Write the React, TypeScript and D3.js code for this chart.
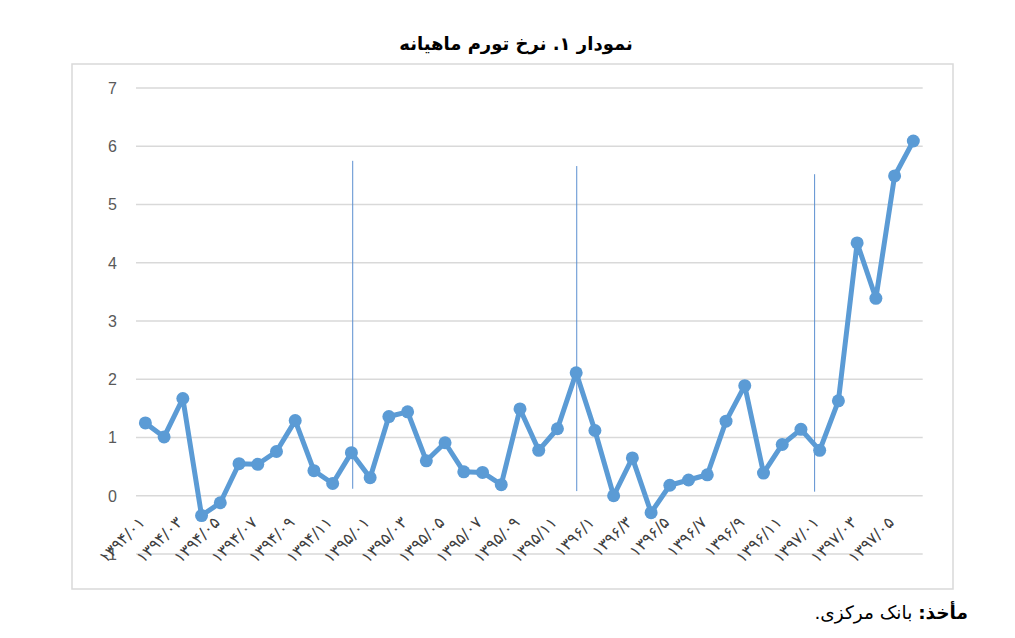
import React from "react";
import * as d3 from "d3";

const months: string[] = [
  "1394/01","1394/02","1394/03","1394/04","1394/05","1394/06","1394/07","1394/08","1394/09","1394/10","1394/11","1394/12",
  "1395/01","1395/02","1395/03","1395/04","1395/05","1395/06","1395/07","1395/08","1395/09","1395/10","1395/11","1395/12",
  "1396/01","1396/02","1396/03","1396/04","1396/05","1396/06","1396/07","1396/08","1396/09","1396/10","1396/11","1396/12",
  "1397/01","1397/02","1397/03","1397/04","1397/05","1397/06",
];

const inflation: number[] = [
  1.25, 1.01, 1.67, -0.34, -0.12, 0.55, 0.54, 0.76, 1.29, 0.43, 0.21, 0.74,
  0.31, 1.36, 1.44, 0.6, 0.91, 0.41, 0.4, 0.19, 1.49, 0.78, 1.15, 2.11,
  1.12, 0.0, 0.65, -0.29, 0.18, 0.27, 0.36, 1.28, 1.89, 0.39, 0.88, 1.14,
  0.78, 1.63, 4.34, 3.39, 5.49, 6.09,
];

// label shown for every second month
const tickLabels: string[] = [
  "۱۳۹۴/۰۱", "۱۳۹۴/۰۳", "۱۳۹۴/۰۵", "۱۳۹۴/۰۷", "۱۳۹۴/۰۹", "۱۳۹۴/۱۱",
  "۱۳۹۵/۰۱", "۱۳۹۵/۰۳", "۱۳۹۵/۰۵", "۱۳۹۵/۰۷", "۱۳۹۵/۰۹", "۱۳۹۵/۱۱",
  "۱۳۹۶/۱", "۱۳۹۶/۳", "۱۳۹۶/۵", "۱۳۹۶/۷", "۱۳۹۶/۹", "۱۳۹۶/۱۱",
  "۱۳۹۷/۰۱", "۱۳۹۷/۰۳", "۱۳۹۷/۰۵",
];

const yTicks: number[] = [-1, 0, 1, 2, 3, 4, 5, 6, 7];

// hand-drawn year separators: position in month index units, top/bottom in value units
const dividerPos: number[] = [11.07, 23.03, 35.73];
const dividerTop: number[] = [5.75, 5.66, 5.52];
const dividerBottom: number[] = [0.12, 0.08, 0.07];

const title = "نمودار ۱. نرخ تورم ماهیانه";
const sourceLabel = "مأخذ:";
const sourceText = " بانک مرکزی.";

export default function App() {
  const W = 1015, H = 638;
  const plotLeft = 136, plotRight = 922.7;
  const x = d3.scalePoint<number>()
    .domain(months.map((_, i) => i))
    .range([plotLeft, plotRight])
    .padding(0.5);
  const step = x.step();
  const xAt = (p: number) => (x(0) as number) + p * step;
  const y = d3.scaleLinear().domain([-1, 7]).range([554, 88]);

  const line = d3.line<number>()
    .x((_, i) => x(i) as number)
    .y((d) => y(d));

  const persian = "DejaVu Sans, sans-serif";

  return (
    <svg width={W} height={H} style={{ position: "absolute", left: 0, top: 0, background: "#fff" }}>
      <rect x={0} y={0} width={W} height={H} fill="#fff" />
      <text x={516} y={50} textAnchor="middle" direction="rtl" fontFamily={persian} fontWeight="bold" fontSize={18} fill="#000">
        {title}
      </text>
      <rect x={72} y={64} width={881} height={525} fill="none" stroke="#d9d9d9" strokeWidth={1.5} />
      {yTicks.map((t) => (
        <g key={t}>
          <line x1={plotLeft} x2={plotRight} y1={y(t)} y2={y(t)} stroke="#d9d9d9" strokeWidth={1.5} />
          <text x={117} y={y(t)} dy="0.36em" textAnchor="end" fontFamily="Liberation Sans, Arial, sans-serif" fontSize={16} fill="#595959">
            {t}
          </text>
        </g>
      ))}
      {tickLabels.map((lab, k) => {
        const cx = x(k * 2) as number;
        return (
          <text key={k} transform={`translate(${cx - 8},${515}) rotate(-45)`} textAnchor="end" dy="0.75em"
            direction="ltr" fontFamily={persian} fontSize={16} fill="#404040">
            {lab}
          </text>
        );
      })}
      {dividerPos.map((p, k) => (
        <line key={k} x1={xAt(p)} x2={xAt(p)} y1={y(dividerTop[k])} y2={y(dividerBottom[k])} stroke="#5b8fd0" strokeWidth={1} />
      ))}
      <path d={line(inflation) || ""} fill="none" stroke="#5b9bd5" strokeWidth={5} strokeLinejoin="round" />
      {inflation.map((v, i) => (
        <circle key={i} cx={x(i) as number} cy={y(v)} r={6.5} fill="#5b9bd5" />
      ))}
      <text x={968} y={619} direction="rtl" textAnchor="start" fontFamily={persian} fontSize={18.5} fill="#000">
        <tspan fontWeight="bold">{sourceLabel}</tspan>
        <tspan>{sourceText}</tspan>
      </text>
    </svg>
  );
}
